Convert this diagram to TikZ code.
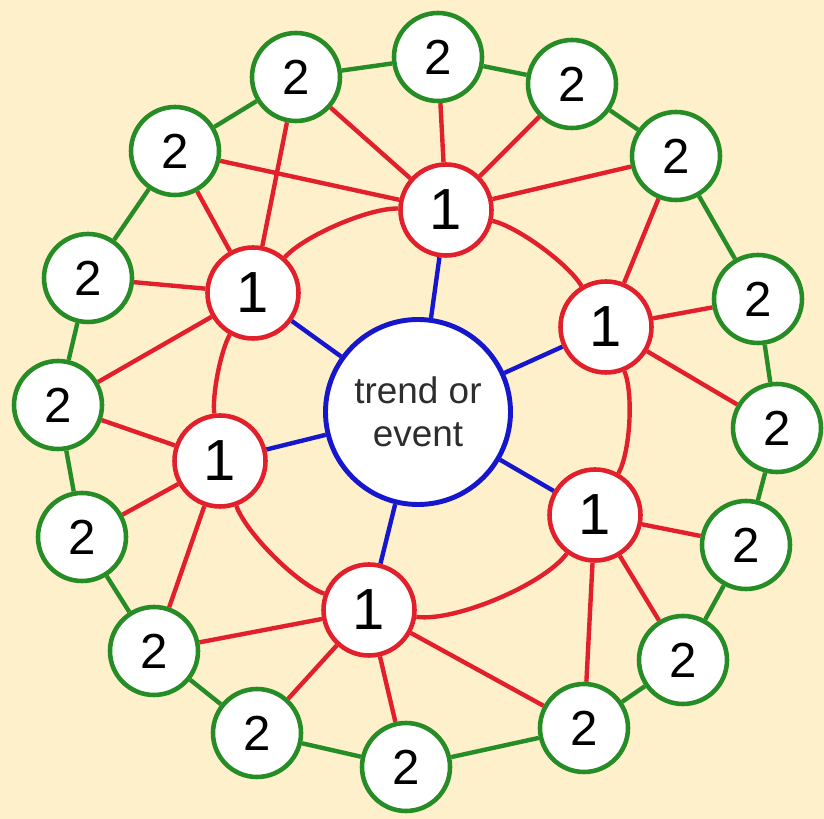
\documentclass[tikz,border=0pt]{standalone}
\usepackage{fontspec}
\setmainfont{Liberation Sans}
\usetikzlibrary{backgrounds}
\definecolor{paper}{RGB}{255,240,204}
\definecolor{hubblue}{RGB}{22,22,205}
\definecolor{ringred}{RGB}{226,32,44}
\definecolor{ringgreen}{RGB}{38,140,38}
\definecolor{hubtext}{RGB}{45,45,45}

\begin{document}
\begin{tikzpicture}[
  every node/.style={font=\fontsize{28}{32}\selectfont},
  hub/.style={circle, draw=hubblue, line width=2.8pt, fill=white, minimum size=3.70cm, align=center, text=hubtext, font=\fontsize{21}{24.4}\selectfont},
  firstring/.style={circle, draw=ringred, line width=2.6pt, fill=white, minimum size=1.82cm, font=\fontsize{33}{36}\selectfont},
  secondring/.style={circle, draw=ringgreen, line width=2.6pt, fill=white, minimum size=1.76cm},
  spoke/.style={draw=hubblue, line width=2.5pt},
  link/.style={draw=ringred, line width=2.5pt},
  ring/.style={draw=ringgreen, line width=2.5pt},
]
  \useasboundingbox (0,0) rectangle (16.48,-16.38);

  % centre
  \node[hub] (T) at (8.36,-8.24) {trend or\\event};

  % first-order impacts
  \node[firstring] (A1) at (8.92,-4.20) {1};
  \node[firstring] (A2) at (5.06,-5.86) {1};
  \node[firstring] (A3) at (12.12,-6.54) {1};
  \node[firstring] (A4) at (4.40,-9.22) {1};
  \node[firstring] (A5) at (11.90,-10.30) {1};
  \node[firstring] (A6) at (7.38,-12.20) {1};

  % second-order impacts
  \node[secondring] (B1) at (8.76,-1.14) {2};
  \node[secondring] (B2) at (11.44,-1.68) {2};
  \node[secondring] (B3) at (13.52,-3.12) {2};
  \node[secondring] (B4) at (15.16,-5.98) {2};
  \node[secondring] (B5) at (15.54,-8.56) {2};
  \node[secondring] (B6) at (14.92,-10.90) {2};
  \node[secondring] (B7) at (13.66,-13.20) {2};
  \node[secondring] (B8) at (11.68,-14.56) {2};
  \node[secondring] (B9) at (8.12,-15.34) {2};
  \node[secondring] (B10) at (5.14,-14.66) {2};
  \node[secondring] (B11) at (3.08,-13.02) {2};
  \node[secondring] (B12) at (1.64,-10.74) {2};
  \node[secondring] (B13) at (1.16,-8.10) {2};
  \node[secondring] (B14) at (1.76,-5.56) {2};
  \node[secondring] (B15) at (3.50,-3.02) {2};
  \node[secondring] (B16) at (5.92,-1.54) {2};

  \begin{scope}[on background layer]
    \fill[paper] (0,0) rectangle (16.48,-16.38);

    % outer ring
    \draw[ring] (B1) -- (B2) -- (B3) -- (B4) -- (B5) -- (B6) -- (B7) -- (B8);
    \draw[ring] (B8) -- (B9) -- (B10) -- (B11) -- (B12) -- (B13) -- (B14) -- (B15) -- (B16) -- (B1);

    % spokes
    \draw[spoke] (T) -- (A1);
    \draw[spoke] (T) -- (A2);
    \draw[spoke] (T) -- (A3);
    \draw[spoke] (T) -- (A4);
    \draw[spoke] (T) -- (A5);
    \draw[spoke] (T) -- (A6);

    % inner arcs
    \draw[link] (A3) to[bend right=23, looseness=0.6] (A1);
    \draw[link] (A1) to[bend right=25, looseness=0.6] (A2);
    \draw[link] (A2) to[bend right=18, looseness=0.6] (A4);
    \draw[link] (A4) to[bend right=25, looseness=0.6] (A6);
    \draw[link] (A6) to[bend right=31, looseness=0.6] (A5);
    \draw[link] (A5) to[bend right=26, looseness=0.6] (A3);

    % first to second
    \draw[link] (A1) -- (B1);
    \draw[link] (A1) -- (B2);
    \draw[link] (A1) -- (B3);
    \draw[link] (A1) -- (B15);
    \draw[link] (A1) -- (B16);
    \draw[link] (A2) -- (B13);
    \draw[link] (A2) -- (B14);
    \draw[link] (A2) -- (B15);
    \draw[link] (A2) -- (B16);
    \draw[link] (A3) -- (B3);
    \draw[link] (A3) -- (B4);
    \draw[link] (A3) -- (B5);
    \draw[link] (A4) -- (B11);
    \draw[link] (A4) -- (B12);
    \draw[link] (A4) -- (B13);
    \draw[link] (A5) -- (B6);
    \draw[link] (A5) -- (B7);
    \draw[link] (A5) -- (B8);
    \draw[link] (A6) -- (B8);
    \draw[link] (A6) -- (B9);
    \draw[link] (A6) -- (B10);
    \draw[link] (A6) -- (B11);
  \end{scope}
\end{tikzpicture}
\end{document}
